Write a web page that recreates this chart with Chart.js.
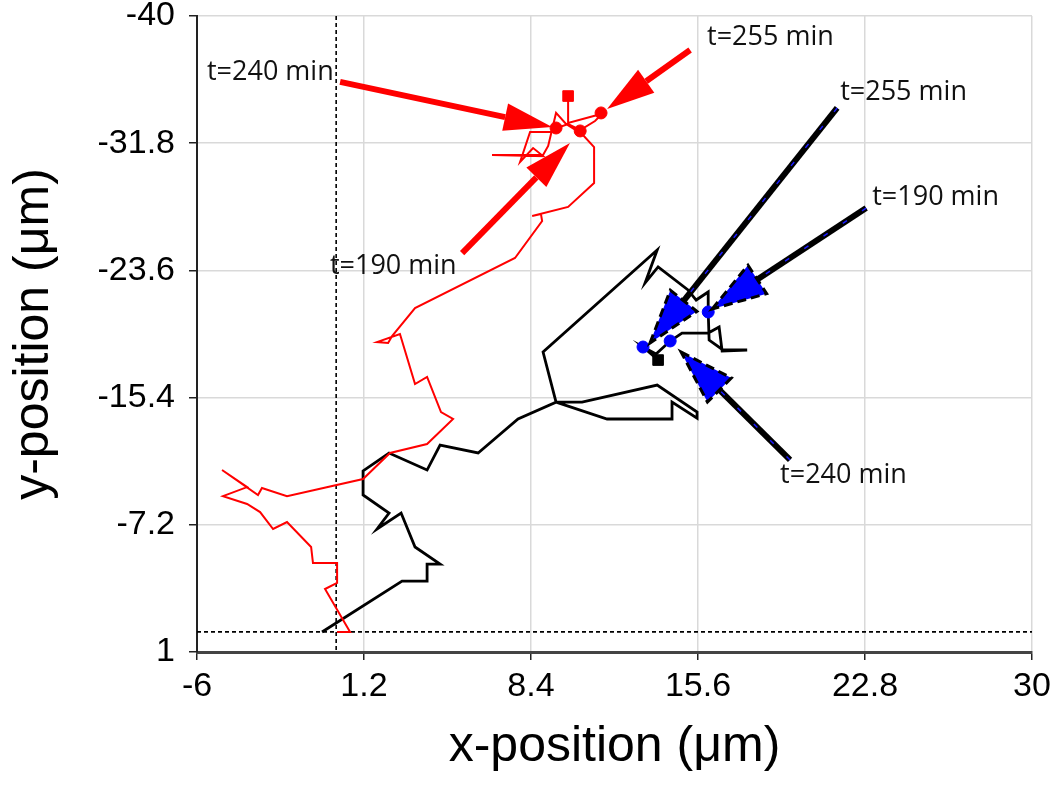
<!DOCTYPE html>
<html>
<head>
<meta charset="utf-8">
<script src="https://cdn.jsdelivr.net/npm/chart.js@4.4.1/dist/chart.umd.min.js"></script>
<style>
  html, body { margin: 0; padding: 0; background: #fff; }
</style>
</head>
<body>
<canvas id="track" width="1063" height="785"></canvas>
<script>
var xTicks = [-6, 1.2, 8.4, 15.6, 22.8, 30];
var yTicks = [-40, -31.8, -23.6, -15.4, -7.2, 1];

// red cell track (um), start near origin
var redX = [0.04, 0.60, -0.48, 0.04, 0.04, -1.00, -1.08, -2.12, -2.72, -3.28, -3.84, -4.88, -3.84, -4.92,
  -3.37, -3.20, -2.12, 1.16, 2.32, 3.92, 5.04, 4.52, 3.92, 3.40, 2.75, 1.76, 2.24, 2.41, 3.40, 7.71,
  8.88, 8.83, 8.45, 10.00, 11.12, 11.12, 10.64, 10.47, 9.91, 9.48, 9.14, 8.92, 6.72, 8.92, 8.49, 7.93,
  8.36, 9.31, 9.52, 10.00, 10.52, 11.16, 11.55, 11.42, 10.00, 10.00];
var redY = [-0.29, -0.29, -3.06, -3.45, -4.73, -4.73, -5.77, -7.38, -6.93, -8.02, -8.54, -9.05, -9.63, -10.73,
  -9.12, -9.57, -9.05, -10.15, -11.83, -12.41, -14.02, -14.47, -16.73, -16.27, -19.50, -18.98, -18.92, -19.37, -21.17, -24.40,
  -26.78, -27.23, -27.11, -27.69, -29.23, -31.55, -32.33, -32.52, -33.04, -33.75, -31.62, -31.04, -31.04, -30.97, -31.49, -30.59,
  -32.52, -32.52, -32.78, -33.04, -32.65, -33.23, -33.81, -33.68, -33.10, -34.84];

// black cell track (um)
var blackX = [-0.61, 2.84, 3.92, 3.92, 4.48, 3.40, 2.80, 1.76, 2.28, 1.16, 1.16, 2.28, 3.92, 4.48, 6.12,
  7.84, 9.48, 10.60, 13.84, 15.56, 15.56, 14.48, 14.48, 11.68, 9.48, 8.92, 13.84, 13.32, 13.88, 15.17,
  15.52, 16.04, 16.04, 16.08, 16.68, 17.72, 16.64, 16.51, 16.04, 14.91, 14.40, 13.79, 13.23, 13.88];
var blackY = [-0.29, -3.57, -3.57, -4.67, -4.67, -5.77, -7.96, -6.93, -7.96, -9.12, -10.67, -11.83, -10.73, -12.34, -11.83,
  -14.02, -15.11, -15.11, -16.21, -14.47, -14.08, -15.11, -14.02, -14.02, -15.11, -18.34, -24.91, -22.79, -23.82, -22.34,
  -21.69, -22.21, -20.92, -19.11, -18.47, -18.47, -18.40, -19.95, -19.56, -19.56, -19.05, -18.21, -18.66, -17.82];

// positions at t = 190, 240, 255 min
var redMarkX = [10.52, 9.48, 11.42];
var redMarkY = [-32.59, -32.78, -33.75];
var blackMarkX = [16.04, 14.40, 13.23];
var blackMarkY = [-20.92, -19.05, -18.66];

// last positions
var redEndX = [10.00];
var redEndY = [-34.84];
var blackEndX = [13.88];
var blackEndY = [-17.82];

// dashed reference lines
var refX = 0;
var refY = -0.3;

// annotation arrows (tail -> tip) and their labels, data units
var redArrowTail = [[5.43, -24.72], [0.17, -35.75], [15.26, -37.81]];
var redArrowTip = [[10.08, -31.81], [9.31, -32.84], [11.68, -34.00]];
var blueArrowTail = [[22.85, -27.62], [19.57, -11.38], [21.60, -34.07]];
var blueArrowTip = [[16.21, -21.11], [14.87, -18.34], [13.53, -18.92]];
var labelText = ['t=190 min', 't=240 min', 't=255 min', 't=190 min', 't=240 min', 't=255 min'];
var labelX = [-0.27, -5.57, 15.99, 23.11, 19.14, 21.73];
var labelY = [-23.88, -36.39, -38.65, -28.33, -10.41, -35.10];

function zip(xs, ys) {
  return xs.map(function (x, i) { return { x: x, y: ys[i] }; });
}

function drawArrow(ctx, x0, y0, x1, y1, blue) {
  var ang = Math.atan2(y1 - y0, x1 - x0);
  var headLen = blue ? 54 : 48;
  var headW = blue ? 17 : 14;
  var cos = Math.cos(ang), sin = Math.sin(ang);
  var bx = x1 - headLen * cos, by = y1 - headLen * sin;

  ctx.save();
  ctx.lineCap = 'butt';
  ctx.beginPath();
  ctx.moveTo(x0, y0);
  ctx.lineTo(bx, by);
  if (blue) {
    ctx.strokeStyle = '#000';
    ctx.lineWidth = 6;
    ctx.stroke();
    ctx.strokeStyle = '#1a1aff';
    ctx.lineWidth = 1.5;
    ctx.setLineDash([5, 18]);
    ctx.stroke();
    ctx.setLineDash([]);
  } else {
    ctx.strokeStyle = '#ff0000';
    ctx.lineWidth = 6;
    ctx.stroke();
  }

  ctx.beginPath();
  ctx.moveTo(x1, y1);
  ctx.lineTo(bx - headW * sin, by + headW * cos);
  ctx.lineTo(bx + headW * sin, by - headW * cos);
  ctx.closePath();
  if (blue) {
    ctx.fillStyle = '#0000ff';
    ctx.fill();
    ctx.strokeStyle = '#000';
    ctx.lineWidth = 3;
    ctx.setLineDash([9, 5]);
    ctx.stroke();
  } else {
    ctx.fillStyle = '#ff0000';
    ctx.fill();
  }
  ctx.restore();
}

var annotations = {
  id: 'annotations',
  afterDatasetsDraw: function (chart) {
    var ctx = chart.ctx;
    var xs = chart.scales.x, ys = chart.scales.y;
    var i;
    for (i = 0; i < redArrowTail.length; i++) {
      drawArrow(ctx, xs.getPixelForValue(redArrowTail[i][0]), ys.getPixelForValue(redArrowTail[i][1]),
        xs.getPixelForValue(redArrowTip[i][0]), ys.getPixelForValue(redArrowTip[i][1]), false);
    }
    for (i = 0; i < blueArrowTail.length; i++) {
      drawArrow(ctx, xs.getPixelForValue(blueArrowTail[i][0]), ys.getPixelForValue(blueArrowTail[i][1]),
        xs.getPixelForValue(blueArrowTip[i][0]), ys.getPixelForValue(blueArrowTip[i][1]), true);
    }
    ctx.save();
    ctx.font = '27px "Open Sans"';
    ctx.fillStyle = '#111';
    ctx.textBaseline = 'middle';
    ctx.textAlign = 'left';
    for (i = 0; i < labelText.length; i++) {
      ctx.fillText(labelText[i], xs.getPixelForValue(labelX[i]), ys.getPixelForValue(labelY[i]));
    }
    ctx.restore();
  }
};

var tickFont = { family: '"Liberation Sans", Arial, sans-serif', size: 34 };
var titleFont = { family: '"Liberation Sans", Arial, sans-serif', size: 50 };

new Chart(document.getElementById('track'), {
  type: 'scatter',
  data: {
    datasets: [
      { data: zip(redMarkX, redMarkY), backgroundColor: '#ff0000', borderColor: '#ff0000', pointRadius: 6, showLine: false },
      { data: zip(blackMarkX, blackMarkY), backgroundColor: '#0000ff', borderColor: '#0000ff', pointRadius: 6, showLine: false },
      { data: zip(redEndX, redEndY), pointStyle: 'rect', backgroundColor: '#ff0000', borderColor: '#ff0000', pointRadius: 7.5, showLine: false },
      { data: zip(blackEndX, blackEndY), pointStyle: 'rect', backgroundColor: '#000', borderColor: '#000', pointRadius: 7.5, showLine: false },
      { data: zip(redX, redY), showLine: true, borderColor: '#ff0000', borderWidth: 2, pointRadius: 0, tension: 0 },
      { data: zip(blackX, blackY), showLine: true, borderColor: '#000', borderWidth: 2.8, pointRadius: 0, tension: 0 },
      { data: [{ x: refX, y: yTicks[0] }, { x: refX, y: yTicks[yTicks.length - 1] }], showLine: true, borderColor: '#000', borderWidth: 1.6, borderDash: [4, 3], pointRadius: 0 },
      { data: [{ x: xTicks[0], y: refY }, { x: xTicks[xTicks.length - 1], y: refY }], showLine: true, borderColor: '#000', borderWidth: 1.6, borderDash: [4, 3], pointRadius: 0 }
    ]
  },
  options: {
    responsive: false,
    animation: false,
    layout: { padding: { top: 16, right: 31, left: 0, bottom: 0 } },
    plugins: {
      legend: { display: false },
      tooltip: { enabled: false }
    },
    scales: {
      x: {
        type: 'linear',
        min: -6,
        max: 30,
        afterBuildTicks: function (scale) {
          scale.ticks = xTicks.map(function (v) { return { value: v }; });
        },
        afterFit: function (scale) {
          scale.height = 133;
          scale.paddingLeft = 0;
          scale.paddingRight = 0;
        },
        ticks: { font: tickFont, color: '#000', padding: 6, maxRotation: 0,
          callback: function (v) { return String(v); } },
        grid: { color: '#d9d9d9', lineWidth: 1.5, tickColor: '#222', tickLength: 8 },
        border: { display: true, color: '#444', width: 3 },
        title: { display: true, text: 'x-position (\u03bcm)', font: titleFont, color: '#000', padding: { top: 0, bottom: 8 } }
      },
      y: {
        type: 'linear',
        reverse: true,
        min: -40,
        max: 1,
        afterBuildTicks: function (scale) {
          scale.ticks = yTicks.map(function (v) { return { value: v }; });
        },
        afterFit: function (scale) {
          scale.width = 197;
          scale.paddingTop = 0;
          scale.paddingBottom = 0;
        },
        ticks: { font: tickFont, color: '#000', padding: 14,
          callback: function (v) { return String(v); } },
        grid: { color: '#d9d9d9', lineWidth: 1.5, tickColor: '#222', tickLength: 8 },
        border: { display: true, color: '#222', width: 2 },
        title: { display: true, text: 'y-position (\u03bcm)', font: titleFont, color: '#000', padding: { top: 4, bottom: 0 } }
      }
    }
  },
  plugins: [annotations]
});
</script>
</body>
</html>
